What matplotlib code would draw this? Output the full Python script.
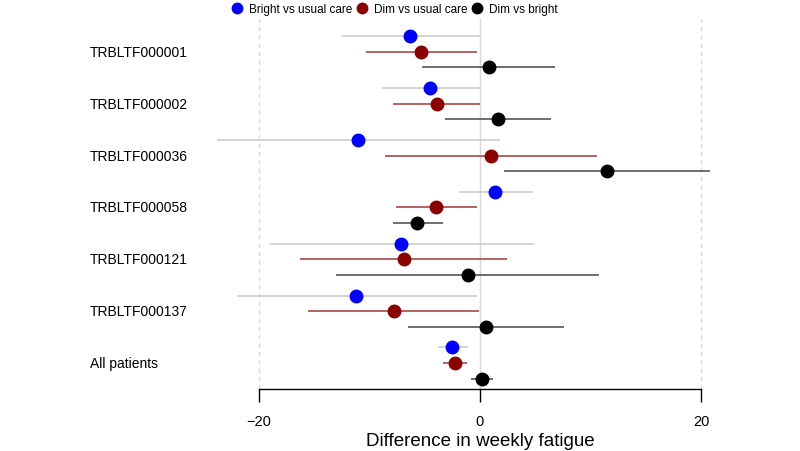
import numpy as np
import matplotlib.pyplot as plt
import matplotlib.transforms as mtransforms
from matplotlib.lines import Line2D

plt.rcParams['font.family'] = ['Liberation Sans', 'DejaVu Sans']

# Данные: оценка и доверительный интервал для каждой группы
groups = ["TRBLTF000001", "TRBLTF000002", "TRBLTF000036", "TRBLTF000058",
          "TRBLTF000121", "TRBLTF000137", "All patients"]

bright_est = [-6.3, -4.5, -11.0, 1.4, -7.1, -11.2, -2.5]
bright_lo = [-12.5, -8.9, -23.8, -1.9, -19.0, -22.0, -3.8]
bright_hi = [0.0, 0.0, 1.8, 4.75, 4.9, -0.3, -1.1]

dim_est = [-5.3, -3.9, 1.0, -4.0, -6.9, -7.8, -2.25]
dim_lo = [-10.3, -7.9, -8.6, -7.6, -16.3, -15.5, -3.3]
dim_hi = [-0.3, 0.0, 10.6, -0.3, 2.4, -0.1, -1.2]

dvb_est = [0.8, 1.6, 11.5, -5.7, -1.1, 0.5, 0.2]
dvb_lo = [-5.2, -3.2, 2.2, -7.9, -13.0, -6.5, -0.8]
dvb_hi = [6.8, 6.4, 20.8, -3.3, 10.75, 7.6, 1.2]

series = [
    ("Bright vs usual care", bright_est, bright_lo, bright_hi, "#0000ff", "#cccccc", -0.3),
    ("Dim vs usual care", dim_est, dim_lo, dim_hi, "#8b0000", "#a84848", 0.0),
    ("Dim vs bright", dvb_est, dvb_lo, dvb_hi, "#000000", "#555555", 0.3),
]

fig = plt.figure(figsize=(8, 4.52), dpi=100)
ax = fig.add_axes([0.25, 0.137, 0.70, 0.819])

pos = np.arange(len(groups))

# Вертикальные опорные линии
ax.axvline(0, color="#d8d8d8", lw=1.0, zorder=0)
for v in (-20, 20):
    ax.axvline(v, color="#d8d8d8", lw=1.0, ls=(0, (3, 3)), zorder=0)

handles = []
for name, est, lo, hi, dot_c, line_c, off in series:
    y = pos + off
    ax.hlines(y, lo, hi, color=line_c, lw=1.2, zorder=2)
    ax.plot(est, y, "o", color=dot_c, ms=9, zorder=3)
    handles.append(Line2D([], [], ls="", marker="o", color=dot_c, ms=7.5, label=name))

ax.set_xlim(-25.3, 25.3)
ax.set_ylim(6.502, -0.637)

# Подписи групп слева
trans = mtransforms.blended_transform_factory(fig.transFigure, ax.transData)
for g, p in zip(groups, pos):
    ax.text(90 / 800, p, g, transform=trans, ha="left", va="center", fontsize=10)

ax.set_yticks([])
for s in ("top", "right", "left"):
    ax.spines[s].set_visible(False)
ax.spines["bottom"].set_bounds(-20, 20)
ax.spines["bottom"].set_linewidth(1.0)
ax.set_xticks([-20, 0, 20])
ax.set_xticklabels(["\u221220", "0", "20"])
ax.tick_params(axis="x", length=9, width=1.0, labelsize=10.5, pad=9)
ax.set_xlabel("Difference in weekly fatigue", fontsize=13.5, labelpad=3)

fig.legend(handles=handles, loc="upper center", bbox_to_anchor=(0.493, 1.015), ncol=3,
           frameon=False, fontsize=8.5, handletextpad=0.55, columnspacing=0.3,
           handlelength=1.0)

fig.savefig("out.png", dpi=100)
